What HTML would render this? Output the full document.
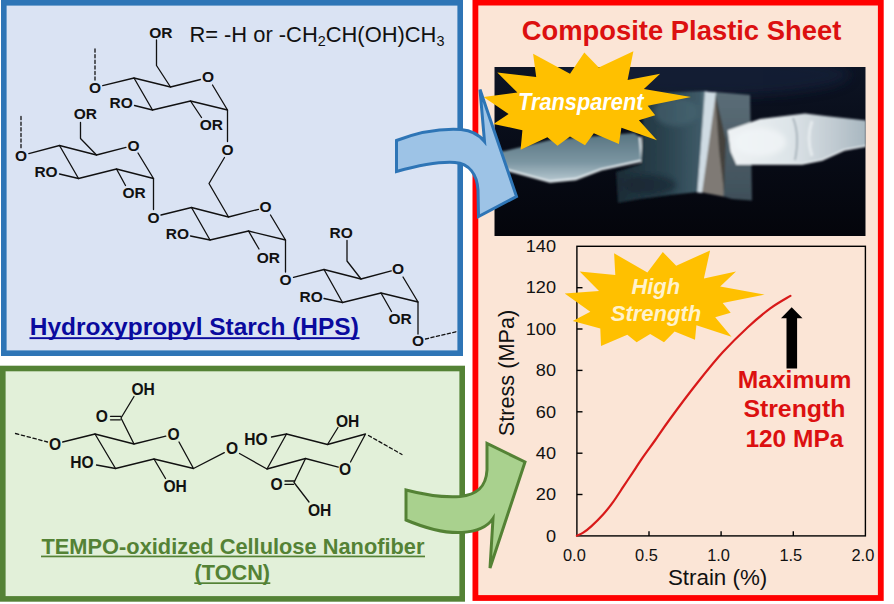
<!DOCTYPE html>
<html><head><meta charset="utf-8"><title>Graphical abstract</title>
<style>
html,body{margin:0;padding:0;background:#fff;}
body{width:894px;height:604px;overflow:hidden;position:relative;font-family:"Liberation Sans", sans-serif;}
svg{position:absolute;left:0;top:0;display:block;}
text{font-family:"Liberation Sans", sans-serif;}
</style></head><body>
<svg width="894" height="604" viewBox="0 0 894 604">
<defs>
<filter id="b1" x="-20%" y="-20%" width="140%" height="140%"><feGaussianBlur stdDeviation="1.2"/></filter>
<filter id="b2" x="-20%" y="-20%" width="140%" height="140%"><feGaussianBlur stdDeviation="2.5"/></filter>
<filter id="b3" x="-20%" y="-20%" width="140%" height="140%"><feGaussianBlur stdDeviation="6"/></filter>
<linearGradient id="bg" x1="0" y1="0" x2="0" y2="1"><stop offset="0" stop-color="#0d1424"/><stop offset="0.45" stop-color="#080c18"/><stop offset="1" stop-color="#04050b"/></linearGradient>
<linearGradient id="spat" x1="0" y1="0" x2="1" y2="0"><stop offset="0" stop-color="#eef2f4"/><stop offset="0.45" stop-color="#dde4e8"/><stop offset="0.75" stop-color="#c2ccd3"/><stop offset="1" stop-color="#a8b7c0"/></linearGradient>
<linearGradient id="filmL" x1="0" y1="0" x2="1" y2="0"><stop offset="0" stop-color="#1b2b35"/><stop offset="0.6" stop-color="#2d4652"/><stop offset="0.93" stop-color="#3f5b68"/><stop offset="1" stop-color="#6d8793"/></linearGradient>
<linearGradient id="filmR" x1="0" y1="0" x2="0" y2="1"><stop offset="0" stop-color="#5c6e78"/><stop offset="1" stop-color="#3e4f59"/></linearGradient>
<linearGradient id="twz" x1="0" y1="0" x2="0" y2="1"><stop offset="0" stop-color="#587481"/><stop offset="0.6" stop-color="#7c96a2"/><stop offset="1" stop-color="#b9cad2"/></linearGradient>
<clipPath id="photoclip"><rect x="494.3" y="67" width="371.4" height="169"/></clipPath>
</defs>
<rect x="3.8" y="2.8" width="456.4" height="350.4" fill="#dae3f3" stroke="#2e75b6" stroke-width="5.6"/>
<rect x="2.8" y="368.5" width="459.4" height="230.4" fill="#e2f0d9" stroke="#548235" stroke-width="5.6"/>
<rect x="475.4" y="2.6" width="405.4" height="595.4" fill="#fbe5d6" stroke="#ff0000" stroke-width="5.8"/>
<g clip-path="url(#photoclip)">
<rect x="494.3" y="67" width="371.4" height="169" fill="url(#bg)"/>
<ellipse cx="700" cy="75" rx="150" ry="22" fill="#17233a" opacity="0.7" filter="url(#b3)"/>
<g filter="url(#b1)">
<polygon points="494,152 505,151 550,140 634,133 640,137 642.5,161 601,170 575.6,179.5 550,182 511,171 494,166" fill="url(#twz)"/>
<polyline points="494,166 511,171 550,181.5 575.6,179 601,169.5 642,160.5 640,137" fill="none" stroke="#e2eaee" stroke-width="2.3"/>
<polygon points="644,93 707,91 698,192 670,195 640,199 618,203 616,172 641,164" fill="url(#filmL)"/>
<polygon points="714,92 750,95 752,200.5 732,199 722,196" fill="url(#filmR)"/>
<polygon points="714,93 725,136 723.5,196.5 700,192" fill="#7f7a75"/>
<polygon points="715,93 726,140 724,192 719,150" fill="#3b3835" opacity="0.85"/>
<polygon points="705,91.5 716,92.5 702,193 697.3,192.5" fill="#cfdbe3"/>
<polygon points="727.7,130.3 760,119 805,113.4 827.5,116.2 866,120.4 866,145.8 844.4,150 822,159.8 802.2,164 736.1,164 730.5,151.4" fill="url(#spat)"/>
<polyline points="736,164 802,164 822,160 844,150 866,146" fill="none" stroke="#eef3f6" stroke-width="1.6"/>
<ellipse cx="760" cy="142" rx="26" ry="14" fill="#f2f6f8" opacity="0.75" filter="url(#b2)"/>
<ellipse cx="676" cy="112" rx="22" ry="14" fill="#4b6976" opacity="0.55" filter="url(#b2)"/>
<ellipse cx="650" cy="185" rx="26" ry="10" fill="#16242d" opacity="0.6" filter="url(#b2)"/>
<path d="M812,121 Q806,138 812,156" fill="none" stroke="#f4f7f9" stroke-width="3" opacity="0.6"/>
<path d="M793,118 Q800,135 795,160" fill="none" stroke="#8796a0" stroke-width="1.5" opacity="0.8"/>
</g>
</g>
<text x="681.5" y="39.5" font-size="28.2" text-anchor="middle" font-weight="bold" fill="#dc1010" textLength="319.6" lengthAdjust="spacingAndGlyphs">Composite Plastic Sheet</text>
<rect x="576.9" y="246.3" width="288.5" height="289.59999999999997" fill="none" stroke="#000" stroke-width="1.4"/>
<g stroke="#000" stroke-width="1.4">
<line x1="576.9" y1="494.5" x2="582.5" y2="494.5"/>
<line x1="576.9" y1="453.2" x2="582.5" y2="453.2"/>
<line x1="576.9" y1="411.8" x2="582.5" y2="411.8"/>
<line x1="576.9" y1="370.4" x2="582.5" y2="370.4"/>
<line x1="576.9" y1="329.0" x2="582.5" y2="329.0"/>
<line x1="576.9" y1="287.7" x2="582.5" y2="287.7"/>
<line x1="649.0" y1="535.9" x2="649.0" y2="531.3"/>
<line x1="721.1" y1="535.9" x2="721.1" y2="531.3"/>
<line x1="793.3" y1="535.9" x2="793.3" y2="531.3"/>
</g>
<g fill="#111" font-size="16.4">
<text x="545.9" y="541.6" textLength="10.1" lengthAdjust="spacingAndGlyphs">0</text>
<text x="535.8" y="500.2" textLength="20.2" lengthAdjust="spacingAndGlyphs">20</text>
<text x="535.8" y="458.9" textLength="20.2" lengthAdjust="spacingAndGlyphs">40</text>
<text x="535.8" y="417.5" textLength="20.2" lengthAdjust="spacingAndGlyphs">60</text>
<text x="535.8" y="376.1" textLength="20.2" lengthAdjust="spacingAndGlyphs">80</text>
<text x="525.7" y="334.7" textLength="30.3" lengthAdjust="spacingAndGlyphs">100</text>
<text x="525.7" y="293.4" textLength="30.3" lengthAdjust="spacingAndGlyphs">120</text>
<text x="525.7" y="252.0" textLength="30.3" lengthAdjust="spacingAndGlyphs">140</text>
<text x="574.4" y="560.7" text-anchor="middle">0.0</text>
<text x="646.5" y="560.7" text-anchor="middle">0.5</text>
<text x="718.6" y="560.7" text-anchor="middle">1.0</text>
<text x="790.8" y="560.7" text-anchor="middle">1.5</text>
<text x="862.9" y="560.7" text-anchor="middle">2.0</text>
</g>
<text x="717.6" y="584.7" font-size="22" text-anchor="middle" fill="#111" textLength="99.4" lengthAdjust="spacingAndGlyphs">Strain (%)</text>
<text transform="translate(514.4,373) rotate(-90)" font-size="22.2" text-anchor="middle" fill="#111" textLength="126.5" lengthAdjust="spacingAndGlyphs">Stress (MPa)</text>
<path d="M576.9,535.7 C578.0,535.2 580.8,534.3 583.2,532.7 C585.6,531.1 588.2,529.1 591.5,526.1 C594.8,523.1 599.5,518.5 603.1,514.5 C606.7,510.5 609.7,506.7 613,502.1 C616.3,497.6 619.7,492.2 623,487.2 C626.3,482.2 629.6,477.3 632.9,472.3 C636.2,467.3 639.1,462.8 642.8,457.4 C646.5,452.0 650.8,446.4 655.3,440 C659.8,433.6 663.0,428.6 670,419 C677.0,409.4 688.8,393.6 697.6,382.5 C706.4,371.4 714.3,361.5 722.7,352.3 C731.1,343.1 739.9,334.5 747.8,327.2 C755.7,319.9 763.2,313.6 770.3,308.4 C777.4,303.2 787.0,298.0 790.4,295.9" fill="none" stroke="#d81a1a" stroke-width="2.2" stroke-linecap="round"/>
<polygon points="791.7,307.2 802.5,318.2 797.1,318.2 797.1,368.6 786.5,368.6 786.5,318.2 781,318.2" fill="#000"/>
<g font-weight="bold" fill="#dc1010" font-size="23.5" text-anchor="middle">
<text x="794.5" y="387.8" textLength="113.6" lengthAdjust="spacingAndGlyphs">Maximum</text>
<text x="794.4" y="417.2" textLength="102" lengthAdjust="spacingAndGlyphs">Strength</text>
<text x="794.4" y="446.9" textLength="98" lengthAdjust="spacingAndGlyphs">120 MPa</text>
</g>
<polygon points="483.5,97.1 517.4,92.6 497.3,72.6 536.2,77.1 533.1,53.8 570,73.8 584.3,52.5 598.8,67.6 633.4,51.3 627.6,80.1 660.2,73.8 643.9,88.9 691,97.1 647.7,105.7 655.2,115.2 638.9,120.2 657,140.3 621.4,127.7 618.9,144 593.8,133.2 585,145.3 570,136.5 557.5,145.8 547.4,137.2 520.6,149.8 522.4,130.2 493.5,124 508.6,113.9" fill="#ffc000"/>
<text x="580.8" y="110.3" font-size="23" font-weight="bold" font-style="italic" fill="#fff" text-anchor="middle" textLength="125.4" lengthAdjust="spacingAndGlyphs">Transparent</text>
<polygon points="564.7,293.4 599,290.9 579.7,271.6 615.3,275.1 614.1,253.3 647.4,272.6 662.8,252 676.2,265.8 710.1,250.4 703.9,278.4 736,271.6 720.2,286.6 764.6,294.7 722.7,302.9 730.7,312.7 715.2,317.2 731.5,336.8 696.4,325.2 695,339.8 674.6,331.6 664,342.3 650.2,334 636.6,342.3 627.3,334.8 601,346 600.3,328.5 572.7,321 590.3,311.7" fill="#ffc000"/>
<g font-size="21.7" font-weight="bold" font-style="italic" fill="#fff2cc" text-anchor="middle">
<text x="655.8" y="294.4" textLength="48.6" lengthAdjust="spacingAndGlyphs">High</text>
<text x="656" y="320.6" textLength="90.6" lengthAdjust="spacingAndGlyphs">Strength</text>
</g>
<g stroke="#111" fill="none" stroke-linecap="round" stroke-linejoin="round">
<polyline points="102.7,85.7 134,78 170.5,87 200.5,79.5" fill="none" stroke-width="1.3"/>
<polyline points="212.5,85 227.5,110 190.5,101 152.5,110 134,78" fill="none" stroke-width="1.3"/>
<polyline points="170.5,87 156.5,65.5 156.5,40" fill="none" stroke-width="1.3"/>
<line x1="152.5" y1="110" x2="134.5" y2="105.5" stroke-width="1.3"/>
<line x1="190.5" y1="101" x2="201.5" y2="117.5" stroke-width="1.3"/>
<line x1="227.5" y1="110" x2="227.5" y2="141.5" stroke-width="1.3"/>
<line x1="95" y1="49" x2="95" y2="80" stroke-width="1.3" stroke-dasharray="3.2,2.4"/>
<polyline points="28.8,153.6 59.5,145.5 96.5,155 126,147.3" fill="none" stroke-width="1.3"/>
<polyline points="138,153 153.5,178.5 116.5,169 78.5,178.5 59.5,145.5" fill="none" stroke-width="1.3"/>
<polyline points="96.5,155 80.5,138.5 80.5,122.5" fill="none" stroke-width="1.3"/>
<line x1="78.5" y1="178.5" x2="59.5" y2="174" stroke-width="1.3"/>
<line x1="116.5" y1="169" x2="125.5" y2="185.5" stroke-width="1.3"/>
<line x1="153.5" y1="178.5" x2="153.5" y2="209.5" stroke-width="1.3"/>
<line x1="21" y1="116.5" x2="21" y2="148" stroke-width="1.3" stroke-dasharray="3.2,2.4"/>
<polyline points="161,215 191.5,207.5 228.5,217 258.5,209.3" fill="none" stroke-width="1.3"/>
<polyline points="270.5,215 285.5,240 248.5,231 210,240 191.5,207.5" fill="none" stroke-width="1.3"/>
<polyline points="228.5,217 209,183.5 224.5,157.5" fill="none" stroke-width="1.3"/>
<line x1="210" y1="240" x2="190.5" y2="236" stroke-width="1.3"/>
<line x1="248.5" y1="231" x2="259" y2="249" stroke-width="1.3"/>
<line x1="285.5" y1="240" x2="285.5" y2="272" stroke-width="1.3"/>
<polyline points="293.5,277.3 324,269.5 361,279 391.3,270.8" fill="none" stroke-width="1.3"/>
<polyline points="403,277 418,302 381,293 342.5,302.5 324,269.5" fill="none" stroke-width="1.3"/>
<polyline points="361,279 347,261 347,240.5" fill="none" stroke-width="1.3"/>
<line x1="342.5" y1="302.5" x2="324" y2="298.5" stroke-width="1.3"/>
<line x1="381" y1="293" x2="391.5" y2="311.5" stroke-width="1.3"/>
<line x1="418" y1="302" x2="418" y2="334" stroke-width="1.3"/>
<line x1="425.5" y1="339" x2="457" y2="331.5" stroke-width="1.3" stroke-dasharray="3.2,2.4"/>
</g>
<g font-weight="bold" fill="#111" font-size="15.5">
<text x="149.3" y="37.6" font-size="15.5" text-anchor="start" >OR</text>
<text x="109.6" y="108.1" font-size="15.5" text-anchor="start" >RO</text>
<text x="199.8" y="130.1" font-size="15.5" text-anchor="start" >OR</text>
<text x="208" y="82.3" font-size="15.5" text-anchor="middle" >O</text>
<text x="95" y="92.8" font-size="15.5" text-anchor="middle" >O</text>
<text x="227.5" y="154.6" font-size="15.5" text-anchor="middle" >O</text>
<text x="73.8" y="119.1" font-size="15.5" text-anchor="start" >OR</text>
<text x="34.4" y="176.6" font-size="15.5" text-anchor="start" >RO</text>
<text x="122.4" y="198.1" font-size="15.5" text-anchor="start" >OR</text>
<text x="133.5" y="150.8" font-size="15.5" text-anchor="middle" >O</text>
<text x="21" y="160.8" font-size="15.5" text-anchor="middle" >O</text>
<text x="153.5" y="222.8" font-size="15.5" text-anchor="middle" >O</text>
<text x="165.8" y="239.1" font-size="15.5" text-anchor="start" >RO</text>
<text x="256.8" y="262.6" font-size="15.5" text-anchor="start" >OR</text>
<text x="265.5" y="212.3" font-size="15.5" text-anchor="middle" >O</text>
<text x="285.5" y="284.8" font-size="15.5" text-anchor="middle" >O</text>
<text x="329.5" y="238.1" font-size="15.5" text-anchor="start" >RO</text>
<text x="299.5" y="302.1" font-size="15.5" text-anchor="start" >RO</text>
<text x="388.4" y="324.1" font-size="15.5" text-anchor="start" >OR</text>
<text x="398" y="274.3" font-size="15.5" text-anchor="middle" >O</text>
<text x="418" y="346.3" font-size="15.5" text-anchor="middle" >O</text>
</g>
<text x="189.4" y="42" font-size="21.9" fill="#111">R= -H or -CH<tspan font-size="14.4" dy="4.4">2</tspan><tspan dy="-4.4">CH(OH)CH</tspan><tspan font-size="14.4" dy="4.4">3</tspan></text>
<text x="29.8" y="334.6" font-size="24" font-weight="bold" fill="#0a0a9e" textLength="329" lengthAdjust="spacingAndGlyphs">Hydroxypropyl Starch (HPS)</text>
<rect x="29.5" y="337.2" width="330" height="1.9" fill="#0a0a9e"/>
<g stroke="#111" fill="none" stroke-linecap="round" stroke-linejoin="round">
<line x1="15.5" y1="433.5" x2="47.5" y2="442" stroke-width="1.3" stroke-dasharray="3.4,2.6"/>
<polyline points="62.7,442 95,434 134,444 165.8,436.2" fill="none" stroke-width="1.3"/>
<polyline points="179,442 193.5,468.5 154,459 115.5,468.5 95,434" fill="none" stroke-width="1.3"/>
<polyline points="134,444 121,418 134,396.5" fill="none" stroke-width="1.3"/>
<line x1="121" y1="416.3" x2="110.5" y2="416.3" stroke-width="1.3"/>
<line x1="120.4" y1="419.8" x2="110.5" y2="419.8" stroke-width="1.3"/>
<line x1="115.5" y1="468.5" x2="96.5" y2="465" stroke-width="1.3"/>
<line x1="154" y1="459" x2="165.5" y2="478.5" stroke-width="1.3"/>
<line x1="193.5" y1="468.5" x2="224.3" y2="452.6" stroke-width="1.3"/>
<polyline points="239.5,453.5 267,469 286.5,434 327.5,444.5 365.5,434 350.5,462" fill="none" stroke-width="1.3"/>
<polyline points="338.3,467.2 305.5,458.5 267,469" fill="none" stroke-width="1.3"/>
<line x1="286.5" y1="434" x2="271.5" y2="437" stroke-width="1.3"/>
<line x1="327.5" y1="444.5" x2="338" y2="427.5" stroke-width="1.3"/>
<polyline points="305.5,458.5 294,482.5 309,502" fill="none" stroke-width="1.3"/>
<line x1="294.6" y1="481" x2="285" y2="481" stroke-width="1.3"/>
<line x1="293.4" y1="484.4" x2="285" y2="484.4" stroke-width="1.3"/>
<line x1="368.5" y1="435.5" x2="402" y2="454.5" stroke-width="1.3" stroke-dasharray="3.4,2.6"/>
</g>
<g font-weight="bold" fill="#111" font-size="15.6">
<text x="131.4" y="394.6" font-size="15.6" text-anchor="start" >OH</text>
<text x="101.8" y="422.4" font-size="15.6" text-anchor="middle" >O</text>
<text x="55" y="449.6" font-size="15.6" text-anchor="middle" >O</text>
<text x="173.5" y="440.2" font-size="15.6" text-anchor="middle" >O</text>
<text x="70.3" y="468.1" font-size="15.6" text-anchor="start" >HO</text>
<text x="163.4" y="491.6" font-size="15.6" text-anchor="start" >OH</text>
<text x="232" y="454.2" font-size="15.6" text-anchor="middle" >O</text>
<text x="244.3" y="444.6" font-size="15.6" text-anchor="start" >HO</text>
<text x="335.9" y="427.1" font-size="15.6" text-anchor="start" >OH</text>
<text x="345" y="475.2" font-size="15.6" text-anchor="middle" >O</text>
<text x="276.6" y="490.4" font-size="15.6" text-anchor="middle" >O</text>
<text x="307.9" y="515.6" font-size="15.6" text-anchor="start" >OH</text>
</g>
<g font-weight="bold" fill="#548235" font-size="21.6">
<text x="41.5" y="553.8" textLength="383" lengthAdjust="spacingAndGlyphs">TEMPO-oxidized Cellulose Nanofiber</text>
<text x="232.3" y="580.4" text-anchor="middle" textLength="75.5" lengthAdjust="spacingAndGlyphs">(TOCN)</text>
<rect x="41" y="555.6" width="384" height="1.7" stroke="none"/>
<rect x="194.3" y="582.3" width="76" height="1.7" stroke="none"/>
</g>
<path d="M396.5,140.5 C420,131.5 444,128.5 461,129.5 C471,130.3 478,133.5 484.5,141.5 L480,89.5 L516.5,196.5 L478.5,216.5 L478,190 C477,174 469,163.5 455,162.5 C440,161.5 420,165 396.5,171.5 Z" fill="#9dc3e6" stroke="#2e75b6" stroke-width="3" stroke-linejoin="miter"/>
<path d="M406,490 C425,495 445,497.5 460,496.5 C476,495 486,488 487,470 L487,443.5 L525,462 L490,568 L493,518.5 C488,526 478,531.5 462,532.5 C445,533.5 425,528 406,520 Z" fill="#a9d18e" stroke="#548235" stroke-width="3" stroke-linejoin="miter"/>
</svg>
</body></html>
